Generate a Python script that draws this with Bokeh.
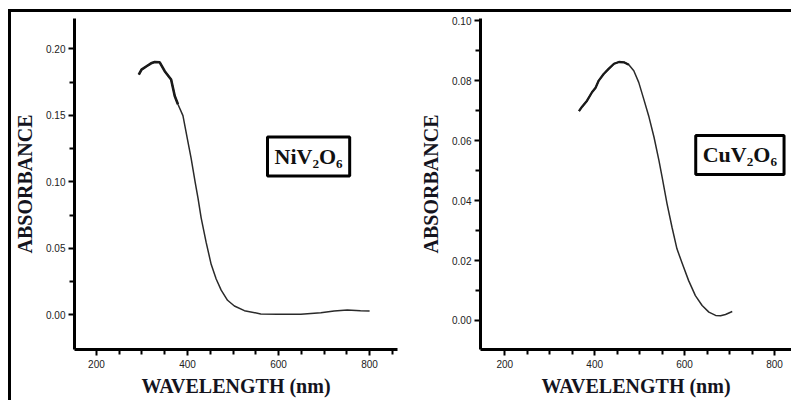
from bokeh.plotting import figure
from bokeh.layouts import row, column
from bokeh.models import FixedTicker, NumeralTickFormatter, Label, Range1d, Div, Spacer
from bokeh.embed import file_html
from bokeh.resources import INLINE

# ---- data ----
wl_ni = [293, 299, 310, 320, 328, 339, 350, 364, 372, 379, 390, 401, 408, 417, 423, 430,
         441, 452, 463, 474, 488, 503, 525, 561, 598, 649, 693, 722, 751, 780, 800]
abs_ni = [0.1807, 0.1844, 0.1869, 0.1891, 0.1901, 0.1899, 0.1832, 0.1770, 0.1646, 0.1584,
          0.1498, 0.1300, 0.1176, 0.0995, 0.0880, 0.0730, 0.0545, 0.0380, 0.0270, 0.0186,
          0.0110, 0.0067, 0.0032, 0.0007, 0.0005, 0.0005, 0.0017, 0.0030, 0.0037, 0.0032, 0.0030]

wl_cu = [365, 372, 383, 394, 402, 409, 420, 431, 443, 454, 465, 476, 487, 498, 509, 520,
         532, 543, 550, 561, 572, 583, 595, 609, 624, 639, 654, 669, 680, 691, 706]
abs_cu = [0.0698, 0.0713, 0.0733, 0.0761, 0.0776, 0.0800, 0.0822, 0.0839, 0.0856, 0.0862,
          0.0861, 0.0853, 0.0833, 0.0794, 0.0739, 0.0683, 0.0611, 0.0533, 0.0478, 0.0389,
          0.0311, 0.0239, 0.0189, 0.0133, 0.0083, 0.0050, 0.0028, 0.0017, 0.0016, 0.0020, 0.0030]

x_ticks = [200, 400, 600, 800]
x_minor = [250, 300, 350, 450, 500, 550, 650, 700, 750, 850]
y_ticks_ni = [0.00, 0.05, 0.10, 0.15, 0.20]
y_minor_ni = [0.025, 0.075, 0.125, 0.175]
y_ticks_cu = [0.00, 0.02, 0.04, 0.06, 0.08, 0.10]
y_minor_cu = [0.01, 0.03, 0.05, 0.07, 0.09]

x_title = "WAVELENGTH (nm)"
y_title = "ABSORBANCE"
name_ni = "NiV₂O₆"
name_cu = "CuV₂O₆"

SERIF = "Liberation Serif"
SANS = "Liberation Sans"


def make_panel(width, height, xr, yr, b_left, b_right, b_top, b_bottom,
               yt, ym, xstand, ystand):
    p = figure(width=width, height=height, output_backend="svg", toolbar_location=None,
               x_range=Range1d(*xr), y_range=Range1d(*yr),
               min_border_left=b_left, min_border_right=b_right,
               min_border_top=b_top, min_border_bottom=b_bottom)
    p.outline_line_color = None
    p.grid.visible = False
    p.background_fill_color = "white"
    p.border_fill_color = "white"

    xa = p.xaxis[0]
    xa.ticker = FixedTicker(ticks=x_ticks, minor_ticks=x_minor)
    ya = p.yaxis[0]
    ya.ticker = FixedTicker(ticks=yt, minor_ticks=ym)
    ya.formatter = NumeralTickFormatter(format="0.00")
    for ax in (xa, ya):
        ax.axis_line_width = 3
        ax.axis_line_color = "black"
        ax.major_tick_line_width = 2
        ax.minor_tick_line_width = 2
        ax.major_tick_line_color = "black"
        ax.minor_tick_line_color = "black"
        ax.major_tick_in = 0
        ax.minor_tick_in = 0
        ax.major_tick_out = 6
        ax.minor_tick_out = 5
        ax.major_label_text_font = SANS
        ax.major_label_text_font_size = "10px"
        ax.major_label_text_color = "#222222"
        ax.axis_label_text_font = SERIF
        ax.axis_label_text_font_style = "bold"
        ax.axis_label_text_font_size = "20px"
        ax.axis_label_text_color = "#14141e"
    xa.axis_label = x_title
    ya.axis_label = y_title
    xa.major_label_standoff = 4
    ya.major_label_standoff = 3
    xa.axis_label_standoff = xstand
    ya.axis_label_standoff = ystand
    return p


left = make_panel(389, 388, (151.8, 861.3), (-0.026, 0.2228), 62, 3, 3, 50,
                  y_ticks_ni, y_minor_ni, 4, 7)
left.line(wl_ni, abs_ni, line_color="#2a2a2a", line_width=1.5)
left.line(wl_ni[:10], abs_ni[:10], line_color="#1a1a1a", line_width=2.6)
left.add_layout(Label(x=666, y=0.119, text=name_ni, text_align="center",
                      text_baseline="middle", text_font=SERIF, text_font_style="bold",
                      text_font_size="22px", text_color="#111111",
                      border_line_color="black", border_line_width=3,
                      background_fill_color="white", padding=7))

right = make_panel(391, 388, (146.0, 837.8), (-0.00967, 0.1007), 80, 0, 6, 51,
                   y_ticks_cu, y_minor_cu, 4, 7)
right.line(wl_cu, abs_cu, line_color="#2a2a2a", line_width=1.5)
right.line(wl_cu[:12], abs_cu[:12], line_color="#1a1a1a", line_width=2.3)
right.add_layout(Label(x=723, y=0.0552, text=name_cu, text_align="center",
                       text_baseline="middle", text_font=SERIF, text_font_style="bold",
                       text_font_size="22px", text_color="#111111",
                       border_line_color="black", border_line_width=3,
                       background_fill_color="white", padding=7))

top_line = Div(width=783, height=3, margin=0, styles={"background-color": "black"})
left_line = Div(width=3, height=388, margin=0, styles={"background-color": "black"})

inner = column(top_line, row(left_line, left, right, spacing=0), spacing=0)
layout = column(Spacer(width=791, height=9, margin=0),
                row(Spacer(width=8, height=391, margin=0), inner, spacing=0),
                spacing=0)

open("out.html", "w").write(file_html(layout, INLINE))
